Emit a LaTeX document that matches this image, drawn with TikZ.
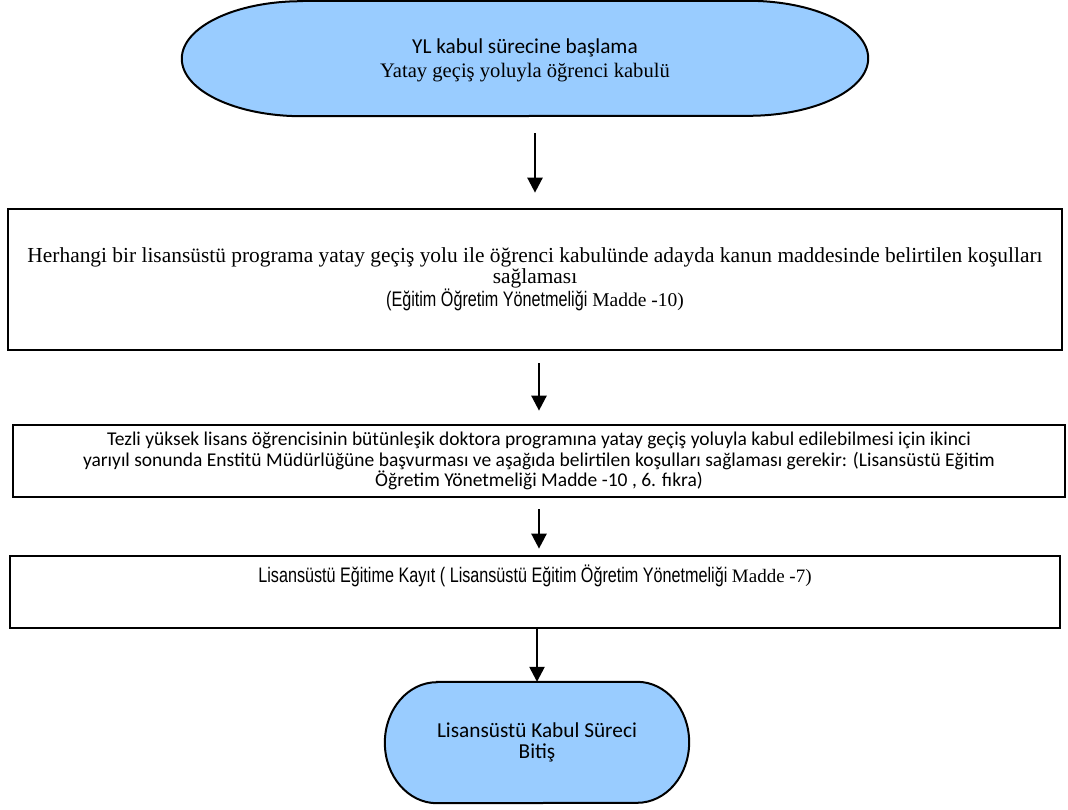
\documentclass[tikz,border=0pt]{standalone}
\usepackage{fontspec}
\setmainfont{Liberation Serif}
\newfontfamily\calibri{Carlito}
\newfontfamily\arialn[FakeStretch=0.77]{Liberation Sans}
\usetikzlibrary{arrows.meta,backgrounds}
\definecolor{termblue}{RGB}{153,204,255}

\begin{document}
\begin{tikzpicture}[x=1pt,y=1pt,
  stepbox/.style={draw, line width=2.7pt, align=center, inner sep=0pt},
  termnode/.style={align=center, inner sep=0pt},
  termline/.style={draw=black, line width=2pt, fill=termblue},
  arr/.style={line width=2.5pt, -{Triangle[width=15pt,length=15pt]}}]
\pgfmathsetmacro{\ta}{120} % end radius, start
\pgfmathsetmacro{\fa}{52}  % end radius, finish
\useasboundingbox (0,0) rectangle (1068,-809);

\node[termnode, minimum width=446, minimum height=115,
  font=\fontsize{20.6}{24}\selectfont] (start) at (525,-60.5)
  {{\calibri\fontsize{21.3}{24}\selectfont YL kabul sürecine başlama}\\ Yatay geçiş yoluyla öğrenci kabulü};

\node[stepbox, minimum width=1054, minimum height=141,
  font=\fontsize{21.4}{17.5}\selectfont] (kosul) at (535,-279.5)
  {Herhangi bir lisansüstü programa yatay geçiş yolu ile öğrenci kabulünde adayda kanun maddesinde belirtilen koşulları\\
   sağlaması\\
   {\fontsize{19.5}{17.5}\selectfont{\arialn\fontsize{21}{17.5}\selectfont (Eğitim Öğretim Yönetmeliği} Madde -10)}};

\node[stepbox, minimum width=1052, minimum height=72,
  font=\calibri\fontsize{19.5}{20.5}\selectfont] (basvuru) at (539,-461)
  {Tezli yüksek lisans öğrencisinin bütünleşik doktora programına yatay geçiş yoluyla kabul edilebilmesi için ikinci\\
   yarıyıl sonunda Enstitü Müdürlüğüne başvurması ve aşağıda belirtilen koşulları sağlaması gerekir: (Lisansüstü Eğitim\\
   Öğretim Yönetmeliği Madde -10 , 6. fıkra)};

\node[stepbox, minimum width=1050, minimum height=72,
  font=\arialn\fontsize{21}{36}\selectfont] (kayit) at (535,-592)
  {Lisansüstü Eğitime Kayıt ( Lisansüstü Eğitim Öğretim Yönetmeliği {\rmfamily\fontsize{19}{36}\selectfont Madde -7)}\\ \mbox{}};

\node[termnode, minimum width=196, minimum height=121,
  font=\calibri\fontsize{21.3}{21}\selectfont] (bitis) at (537,-742.5)
  {Lisansüstü Kabul Süreci\\ Bitiş};

\begin{scope}[on background layer]
% start shape sits 2pt above its text
\draw[termline] ([yshift=2pt]start.north west) -- ([yshift=2pt]start.north east)
  arc[start angle=90, end angle=-90, x radius=\ta pt, y radius=57.5pt]
  -- ([yshift=2pt]start.south west)
  arc[start angle=270, end angle=90, x radius=\ta pt, y radius=57.5pt] -- cycle;
\draw[termline] (bitis.north west) -- (bitis.north east)
  arc[start angle=90, end angle=-90, x radius=\fa pt, y radius=60.5pt]
  -- (bitis.south west)
  arc[start angle=270, end angle=90, x radius=\fa pt, y radius=60.5pt] -- cycle;
\end{scope}

\draw[arr, shorten <=15pt, shorten >=15pt] (kosul.north |- start.south) -- (kosul.north);
\draw[arr, shorten <=12pt, shorten >=13pt] (basvuru.north |- kosul.south) -- (basvuru.north);
\draw[arr, shorten <=11pt, shorten >=6pt] (basvuru.south) -- (basvuru.south |- kayit.north);
\draw[arr] (bitis.north |- kayit.south) -- (bitis.north);
\end{tikzpicture}
\end{document}
